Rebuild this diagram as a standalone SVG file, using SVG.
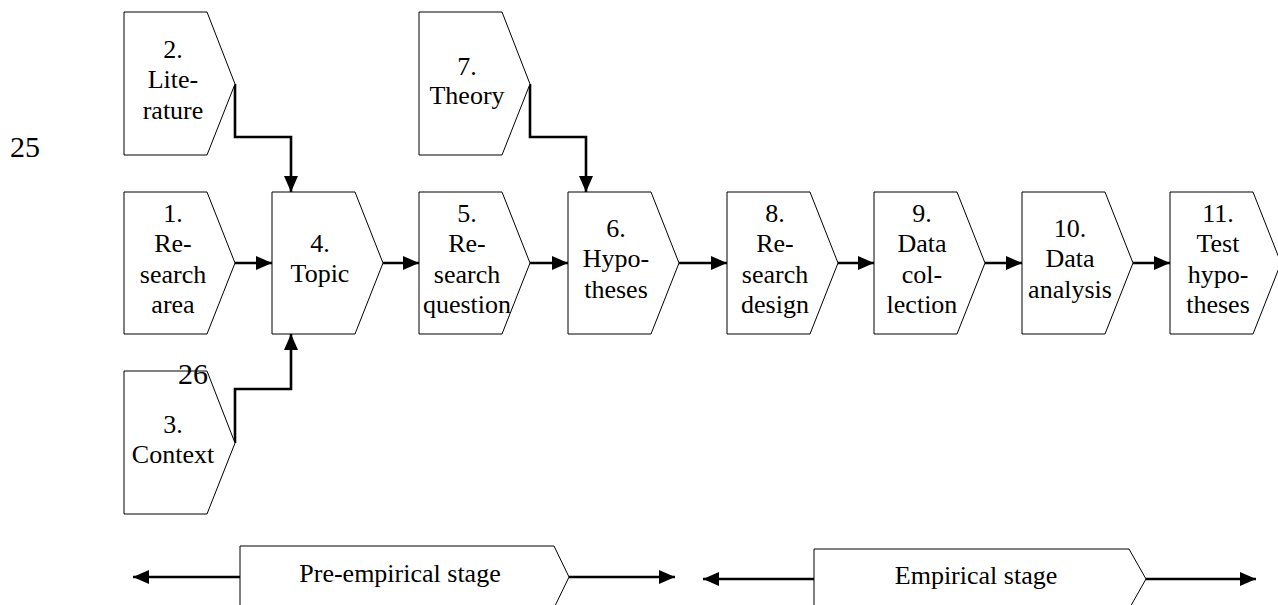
<svg xmlns="http://www.w3.org/2000/svg" width="1278" height="605" viewBox="0 0 1278 605">
<style>
.n{fill:#fff;stroke:#000;stroke-width:1}
.t{font-size:26px;fill:#000;text-anchor:middle}
.c{fill:none;stroke:#000;stroke-width:2.6}
.pg{font-size:30px;fill:#000}
</style>
<defs>
<marker id="ah" markerUnits="userSpaceOnUse" markerWidth="16" markerHeight="14" refX="16" refY="7" orient="auto">
<path d="M0,0 L16,7 L0,14 z" fill="#000"/>
</marker>
</defs>
<rect width="1278" height="605" fill="#fff"/>
<g font-family="'Liberation Serif', 'Times New Roman', 'DejaVu Serif', serif">
<text class="pg" x="10" y="157">25</text>
<g id="connectors">
<path class="c" d="M235,84 V137 H291 V192" marker-end="url(#ah)"/>
<path class="c" d="M235,443 V389 H291 V334" marker-end="url(#ah)"/>
<path class="c" d="M530,84 V137 H586 V192" marker-end="url(#ah)"/>
<path class="c" d="M235,263 H272" marker-end="url(#ah)"/>
<path class="c" d="M383,263 H419" marker-end="url(#ah)"/>
<path class="c" d="M530,263 H568" marker-end="url(#ah)"/>
<path class="c" d="M679,263 H727" marker-end="url(#ah)"/>
<path class="c" d="M838,263 H874" marker-end="url(#ah)"/>
<path class="c" d="M985,263 H1022" marker-end="url(#ah)"/>
<path class="c" d="M1133,263 H1170" marker-end="url(#ah)"/>
<path class="c" d="M240,577 H133" marker-end="url(#ah)"/>
<path class="c" d="M569,577 H675" marker-end="url(#ah)"/>
<path class="c" d="M814,579 H703" marker-end="url(#ah)"/>
<path class="c" d="M1146,579 H1256" marker-end="url(#ah)"/>
</g>
<g id="n2">
<polygon class="n" points="124,12 207,12 235,84 207,155 124,155"/>
<text class="t"><tspan x="173" y="58">2.</tspan><tspan x="173" y="88">Lite-</tspan><tspan x="173" y="119">rature</tspan></text>
</g>
<g id="n7">
<polygon class="n" points="419,12 502,12 530,84 502,155 419,155"/>
<text class="t"><tspan x="467" y="75">7.</tspan><tspan x="467" y="104">Theory</tspan></text>
</g>
<g id="n1">
<polygon class="n" points="124,192 207,192 235,263 207,334 124,334"/>
<text class="t"><tspan x="173" y="222">1.</tspan><tspan x="173" y="252">Re-</tspan><tspan x="173" y="283">search</tspan><tspan x="173" y="313">area</tspan></text>
</g>
<g id="n4">
<polygon class="n" points="272,192 355,192 383,263 355,334 272,334"/>
<text class="t"><tspan x="320" y="252">4.</tspan><tspan x="320" y="282">Topic</tspan></text>
</g>
<g id="n5">
<polygon class="n" points="419,192 502,192 530,263 502,334 419,334"/>
<text class="t"><tspan x="467" y="222">5.</tspan><tspan x="467" y="252">Re-</tspan><tspan x="467" y="283">search</tspan><tspan x="467" y="313">question</tspan></text>
</g>
<g id="n6">
<polygon class="n" points="568,192 651,192 679,263 651,334 568,334"/>
<text class="t"><tspan x="616" y="237">6.</tspan><tspan x="616" y="267">Hypo-</tspan><tspan x="616" y="298">theses</tspan></text>
</g>
<g id="n8">
<polygon class="n" points="727,192 810,192 838,263 810,334 727,334"/>
<text class="t"><tspan x="775" y="222">8.</tspan><tspan x="775" y="252">Re-</tspan><tspan x="775" y="283">search</tspan><tspan x="775" y="313">design</tspan></text>
</g>
<g id="n9">
<polygon class="n" points="874,192 957,192 985,263 957,334 874,334"/>
<text class="t"><tspan x="922" y="222">9.</tspan><tspan x="922" y="252">Data</tspan><tspan x="922" y="283">col-</tspan><tspan x="922" y="313">lection</tspan></text>
</g>
<g id="n10">
<polygon class="n" points="1022,192 1105,192 1133,263 1105,334 1022,334"/>
<text class="t"><tspan x="1070" y="237">10.</tspan><tspan x="1070" y="267">Data</tspan><tspan x="1070" y="298">analysis</tspan></text>
</g>
<g id="n11">
<polygon class="n" points="1170,192 1253,192 1281,263 1253,334 1170,334"/>
<text class="t"><tspan x="1218" y="222">11.</tspan><tspan x="1218" y="252">Test</tspan><tspan x="1218" y="283">hypo-</tspan><tspan x="1218" y="313">theses</tspan></text>
</g>
<g id="n3">
<polygon class="n" points="124,371 207,371 235,443 207,514 124,514"/>
<text class="t"><tspan x="173" y="433">3.</tspan><tspan x="173" y="463">Context</tspan></text>
</g>
<text class="pg" x="178" y="384">26</text>
<g id="stage-pre">
<polygon class="n" points="240,546 554,546 569,577 554,608 240,608"/>
<text class="t" x="400" y="582">Pre-empirical stage</text>
</g>
<g id="stage-emp">
<polygon class="n" points="814,549 1129,549 1146,579 1129,609 814,609"/>
<text class="t" x="976" y="584">Empirical stage</text>
</g>
</g>
</svg>
